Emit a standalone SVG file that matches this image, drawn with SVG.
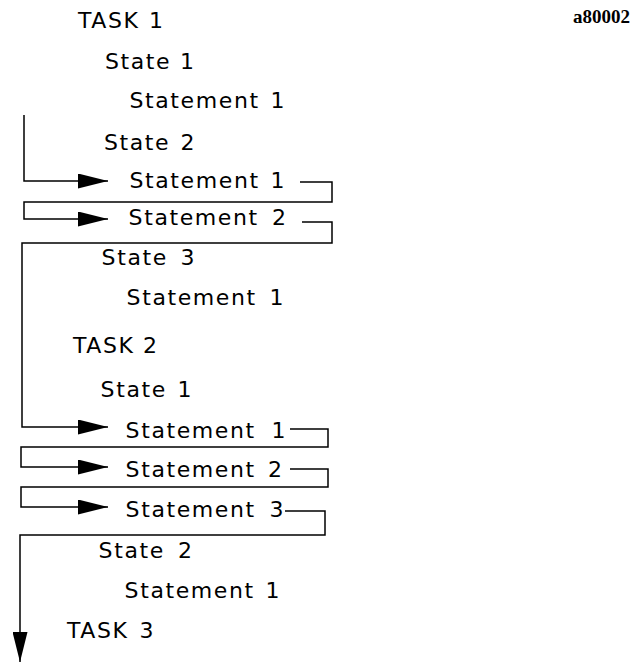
<svg xmlns="http://www.w3.org/2000/svg" width="642" height="662" viewBox="0 0 642 662">
  <style>
    .lbl { font-family: "DejaVu Sans", "Liberation Sans", sans-serif; font-size: 22px; letter-spacing: 1.6px; fill: #000; }
    .tag { font-family: "Liberation Serif", serif; font-size: 19px; font-weight: bold; fill: #000; }
    .flow { fill: none; stroke: #000; stroke-width: 1.5; }
  </style>
  <defs>
    <marker id="head" viewBox="0 0 30 15" refX="30" refY="7.5" markerWidth="30" markerHeight="15" markerUnits="userSpaceOnUse" orient="auto">
      <path d="M0,0 L30,7.5 L0,15 Z" fill="#000"/>
    </marker>
  </defs>
  <rect width="642" height="662" fill="#fff"/>

  <text class="tag" x="573" y="23">a80002</text>

  <!-- TASK 1 -->
  <g id="task1"><text class="lbl" y="28"><tspan x="78">TASK</tspan><tspan x="149">1</tspan></text></g>
  <g id="t1-state1"><text class="lbl" y="69"><tspan x="105">State</tspan><tspan x="180">1</tspan></text></g>
  <g id="t1-s1-stmt1"><text class="lbl" y="108"><tspan x="129.5">Statement</tspan><tspan x="270.5">1</tspan></text></g>
  <g id="t1-state2"><text class="lbl" y="150"><tspan x="104">State</tspan><tspan x="180.5">2</tspan></text></g>
  <g id="t1-s2-stmt1"><text class="lbl" y="188"><tspan x="129.5">Statement</tspan><tspan x="270.5">1</tspan></text></g>
  <g id="t1-s2-stmt2"><text class="lbl" y="225"><tspan x="128.6">Statement</tspan><tspan x="272">2</tspan></text></g>
  <g id="t1-state3"><text class="lbl" y="265"><tspan x="101.6">State</tspan><tspan x="180.5">3</tspan></text></g>
  <g id="t1-s3-stmt1"><text class="lbl" y="305"><tspan x="126.6">Statement</tspan><tspan x="269.5">1</tspan></text></g>

  <!-- TASK 2 -->
  <g id="task2"><text class="lbl" y="353"><tspan x="73">TASK</tspan><tspan x="143">2</tspan></text></g>
  <g id="t2-state1"><text class="lbl" y="397"><tspan x="100.6">State</tspan><tspan x="177.5">1</tspan></text></g>
  <g id="t2-s1-stmt1"><text class="lbl" y="438"><tspan x="125.6">Statement</tspan><tspan x="271.5">1</tspan></text></g>
  <g id="t2-s1-stmt2"><text class="lbl" y="477"><tspan x="125.6">Statement</tspan><tspan x="268">2</tspan></text></g>
  <g id="t2-s1-stmt3"><text class="lbl" y="517"><tspan x="125.6">Statement</tspan><tspan x="269.5">3</tspan></text></g>
  <g id="t2-state2"><text class="lbl" y="558"><tspan x="98.6">State</tspan><tspan x="178">2</tspan></text></g>
  <g id="t2-s2-stmt1"><text class="lbl" y="598"><tspan x="124.6">Statement</tspan><tspan x="265.5">1</tspan></text></g>

  <!-- TASK 3 -->
  <g id="task3"><text class="lbl" y="638"><tspan x="67">TASK</tspan><tspan x="139.5">3</tspan></text></g>

  <!-- execution flow -->
  <g id="connectors">
    <path class="flow" d="M24,115 V181 H108" marker-end="url(#head)"/>
    <path class="flow" d="M300,182 H332 V202 H24 V219 H108" marker-end="url(#head)"/>
    <path class="flow" d="M302,222 H332 V243 H22 V427 H108" marker-end="url(#head)"/>
    <path class="flow" d="M290,429 H328 V447 H21 V467 H108" marker-end="url(#head)"/>
    <path class="flow" d="M290,469 H328 V487 H21 V507 H108" marker-end="url(#head)"/>
    <path class="flow" d="M285,511 H325 V535 H20 V662" marker-end="url(#head)"/>
  </g>
</svg>
